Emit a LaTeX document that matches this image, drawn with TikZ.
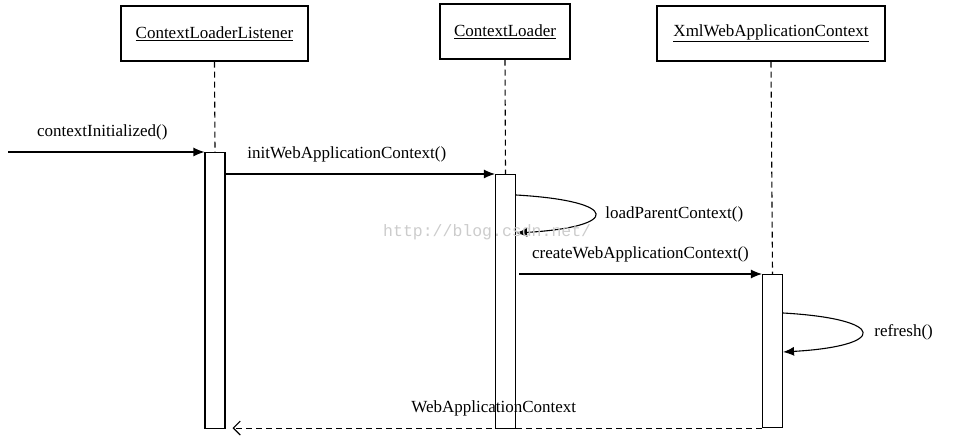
\documentclass[tikz,border=0pt]{standalone}
\usepackage{fontspec}
\setmainfont{Liberation Serif}
\setmonofont{Liberation Mono}
\usetikzlibrary{arrows.meta}

\begin{document}
\begin{tikzpicture}[x=1pt, y=-1pt, font=\fontsize{17}{20}\selectfont,
 obj/.style={draw, line width=1.2pt, minimum height=55pt, inner sep=0pt},
 act/.style={draw, line width=1.1pt, fill=white, minimum width=20pt, anchor=north, inner sep=0pt},
 msg/.style={line width=1.1pt, -{Latex[length=11pt,width=9pt]}},
 ret/.style={line width=1.1pt, dash pattern=on 6pt off 4pt, -{Straight Barb[length=7pt,width=14pt]}},
 lbl/.style={above=11pt, inner sep=0pt}]
\useasboundingbox (0,0) rectangle (956,446);
% objects
\node[obj, minimum width=187pt] (cll) at (214.5,33.5) {\underline{ContextLoaderListener}};
\node[obj, minimum width=130pt] (cl) at (505,31.5) {\underline{ContextLoader}};
\node[obj, minimum width=228pt] (xwac) at (771,33.5) {\underline{XmlWebApplicationContext}};
% activations
\node[act, minimum height=276pt] (a1) at (215,152) {};
\node[act, minimum height=254pt] (a2) at (505.5,174) {};
\node[act, minimum height=153pt] (a3) at (772.5,274) {};
\foreach \o/\a in {cll/a1, cl/a2, xwac/a3}
 \draw[line width=1.1pt, dash pattern=on 6pt off 4pt] (\o.south) -- (\a.north);
% messages
\coordinate (in) at (8,152);
\draw[msg] (in) -- (a1.north west) node[lbl, pos=.48] {contextInitialized()};
\draw[msg] (a1.east |- a2.north) -- (a2.north west) node[lbl, pos=.45] {initWebApplicationContext()};
\draw[msg] ([yshift=-21pt]a2.north east) .. controls +(105,6) and +(105,-6) .. ([yshift=-59pt]a2.north east)
 node[pos=.5, right=10pt, inner sep=0pt] {loadParentContext()};
\draw[msg] ([xshift=3pt]a2.east |- a3.north) -- (a3.north west) node[lbl, pos=.5] {createWebApplicationContext()};
\draw[msg] ([yshift=-39pt]a3.north east) .. controls +(105,6) and +(105,-6) .. ([yshift=-78pt]a3.north east)
 node[pos=.5, right=12pt, inner sep=0pt] {refresh()};
\draw[ret, shorten >=7pt] (a3.south west) -- (a3.south west -| a1.east)
 node[lbl, pos=.5] {WebApplicationContext};
\node[text=gray!40, font=\ttfamily\fontsize{16.5}{19}\selectfont, anchor=west, inner sep=0pt] (wm) at (383,232) {http://blog.csdn.net/};
\end{tikzpicture}
\end{document}
